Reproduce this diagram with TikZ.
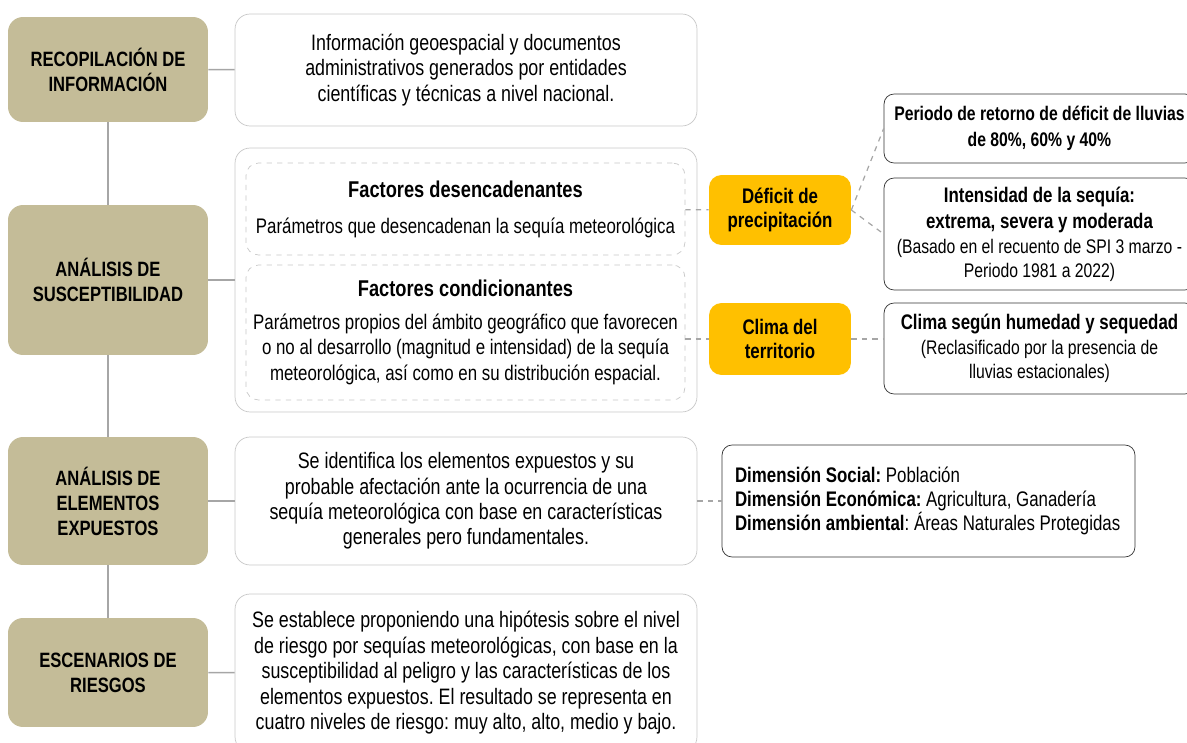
\documentclass[tikz,border=0pt]{standalone}
\usepackage{fontspec}
\setmainfont{Liberation Sans}[FakeStretch=0.8]
\frenchspacing
\usetikzlibrary{positioning}
\definecolor{tan}{HTML}{C4BC98}
\definecolor{gold}{HTML}{FFC000}
\definecolor{linegray}{HTML}{A6A6A6}
\definecolor{edgegray}{HTML}{C8C8C8}
\tikzset{
	stage/.style={fill=tan, rounded corners=0.3cm, minimum width=4cm, align=center,
		font=\fontsize{11.8}{14.2}\selectfont\bfseries},
	info/.style={draw=edgegray, fill=white, rounded corners=0.3cm, minimum width=9.24cm, align=center,
		font=\fontsize{12.7}{14.5}\selectfont},
	factor/.style={draw=edgegray, dashed, rounded corners=0.25cm, minimum width=8.78cm, align=center,
		font=\fontsize{12}{14.5}\selectfont},
	key/.style={fill=gold, rounded corners=0.25cm, minimum width=2.84cm, align=center,
		font=\fontsize{12}{14}\selectfont\bfseries},
	result/.style={draw=black!80, rounded corners=0.2cm, fill=white, align=center,
		font=\fontsize{11.2}{13.8}\selectfont},
	link/.style={draw=linegray, line width=0.9pt},
	dlink/.style={draw=linegray, dashed, line width=0.7pt}
}
\begin{document}
\begin{tikzpicture}[x=0.02cm, y=-0.02cm]
		\useasboundingbox (0,0) rectangle (1187,743);
		% Stages on the left
		\node[stage, minimum height=2.1cm] (rec) at (108,69.5) {RECOPILACIÓN DE\\INFORMACIÓN};
		\node[stage, minimum height=3cm] (sus) at (108,280) {ANÁLISIS DE\\SUSCEPTIBILIDAD};
		\node[stage, minimum height=2.56cm] (exp) at (108,501) {ANÁLISIS DE\\ELEMENTOS\\EXPUESTOS};
		\node[stage, minimum height=2.18cm] (esc) at (108,672.5) {ESCENARIOS DE\\RIESGOS};
		\draw[link] (rec) -- (sus) -- (exp) -- (esc);
		
		% Descriptions
		\node[info, minimum height=2.24cm] (inf) at (466,70) {Información geoespacial y documentos\\administrativos generados por entidades\\científicas y técnicas a nivel nacional.};
		\node[info, minimum height=5.28cm] (frame) at (466,280) {};
		\node[factor, minimum height=1.84cm] (des) at (465.5,209) {{\bfseries\fontsize{13}{14}\selectfont Factores desencadenantes}\\[6pt]Parámetros que desencadenan la sequía meteorológica};
		\node[factor, minimum height=2.7cm] (con) at (465.5,332.5) {{\bfseries\fontsize{13}{14}\selectfont Factores condicionantes}\\[4pt]Parámetros propios del ámbito geográfico que favorecen\\o no al desarrollo (magnitud e intensidad) de la sequía\\meteorológica, así como en su distribución espacial.};
		\node[info, minimum height=2.56cm] (elm) at (466,501) {Se identifica los elementos expuestos y su\\probable afectación ante la ocurrencia de una\\sequía meteorológica con base en características\\generales pero fundamentales.};
		\node[info, minimum height=3.16cm] (hip) at (466,673) {Se establece proponiendo una hipótesis sobre el nivel\\de riesgo por sequías meteorológicas, con base en la\\susceptibilidad al peligro y las características de los\\elementos expuestos. El resultado se representa en\\cuatro niveles de riesgo: muy alto, alto, medio y bajo.};
		\draw[link] (rec) -- (inf);
		\draw[link] (sus) -- (frame);
		\draw[link] (exp) -- (elm);
		\draw[link] (esc) -- (hip);
		
		% Variables
		\node[key, minimum height=1.4cm] (def) at (780,210) {Déficit de\\precipitación};
		\node[key, minimum height=1.44cm] (cli) at (780,339) {Clima del\\territorio};
		\draw[dlink] (des) -- (def);
		\draw[dlink] (cli.west -| con.east) -- (cli);
		
		% Results on the right
		\node[result, minimum width=6.22cm, minimum height=1.38cm, font=\fontsize{11.2}{14.8}\selectfont] (per) at (1039.5,128.5) {\bfseries Periodo de retorno de déficit de lluvias\\\bfseries de 80\%, 60\% y 40\%};
		\node[result, minimum width=6.22cm, minimum height=2.24cm] (int) at (1039.5,234) {{\bfseries\fontsize{12}{13.8}\selectfont Intensidad de la sequía:}\\[1.5pt]{\bfseries\fontsize{12}{13.8}\selectfont extrema, severa y moderada}\\(Basado en el recuento de SPI 3 marzo -\\Periodo 1981 a 2022)};
		\node[result, minimum width=6.22cm, minimum height=1.82cm] (hum) at (1039.5,348.5) {{\bfseries\fontsize{12}{13.8}\selectfont Clima según humedad y sequedad}\\(Reclasificado por la presencia de\\lluvias estacionales)};
		\draw[dlink] (def.east) -- (per.west);
		\draw[dlink] (def.east) -- (int.west);
		\draw[dlink] (cli) -- (cli -| hum.west);
		
		\node[result, minimum width=8.26cm, minimum height=2.24cm, align=flush left, text width=7.74cm, font=\fontsize{12}{13.6}\selectfont] (dim) at (928.5,501) {\textbf{Dimensión Social:} Población\\\textbf{Dimensión Económica:} Agricultura, Ganadería\\\textbf{Dimensión ambiental}: Áreas Naturales Protegidas};
		\draw[dlink] (elm) -- (dim);
	\end{tikzpicture}
\end{document}
